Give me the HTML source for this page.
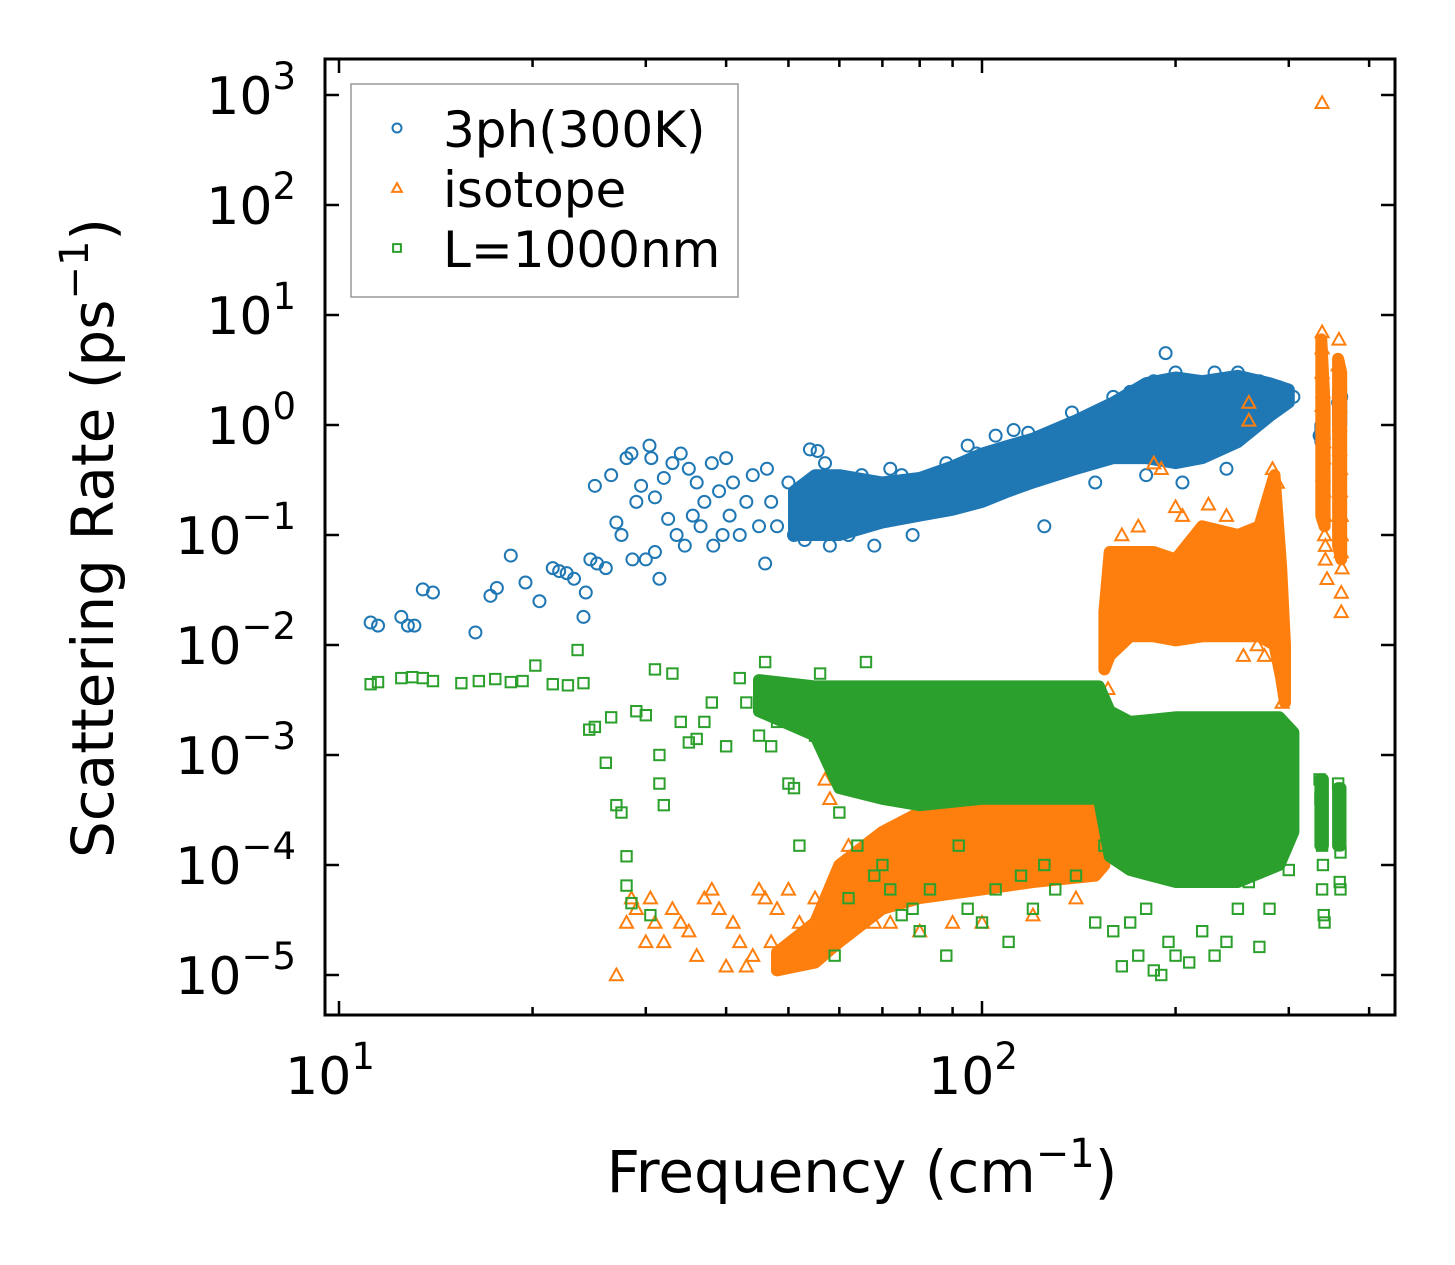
<!DOCTYPE html>
<html><head><meta charset="utf-8"><style>
html,body{margin:0;padding:0;background:#fff;}
svg{display:block;font-family:"DejaVu Sans","Liberation Sans",sans-serif;}
</style></head><body>
<svg id="chart" width="1455" height="1265" viewBox="0 0 1455 1265" xmlns="http://www.w3.org/2000/svg">
<rect width="1455" height="1265" fill="#fff"/>
<g id="marks"></g>
<g id="axes"></g>
</svg>
<script>
// ---- data ----
const xTicks=[10,100];
const xTickLabels=["1","2"];
const yTicks=[1e3,1e2,1e1,1e0,1e-1,1e-2,1e-3,1e-4,1e-5];
const yTickLabels=["3","2","1","0","\u22121","\u22122","\u22123","\u22124","\u22125"];
// density envelopes: [freq, low, high]
const blueBand=[[51,0.1,0.25],[55,0.1,0.35],[60,0.1,0.35],[70,0.13,0.3],[80,0.15,0.33],[90,0.17,0.42],[100,0.2,0.55],[110,0.25,0.65],[120,0.3,0.75],[140,0.4,1.1],[160,0.5,1.6],[180,0.5,2.4],[200,0.45,2.7],[220,0.5,2.5],[250,0.7,2.8],[280,1.2,2.4],[300,1.6,2.1]];
const blueCol1=[[336,0.7,1.0],[340,0.7,1.0]];
const blueCol2=[[358,1.0,2.0],[362,1.0,2.0]];
const orangeLowBand=[[48,1.1e-5,1.6e-5],[55,1.3e-5,3e-5],[60,2e-5,1e-4],[70,4e-5,2e-4],[80,5e-5,3e-4],[100,6e-5,3.5e-4],[120,7e-5,3.5e-4],[150,8e-5,5e-4],[155,1e-4,8e-4]];
const orangeHighBand=[[155,0.006,0.02],[158,0.008,0.07],[170,0.012,0.07],[185,0.012,0.07],[200,0.011,0.06],[220,0.012,0.12],[250,0.012,0.1],[270,0.012,0.12],[285,0.01,0.35],[292,0.005,0.05],[296,0.003,0.01]];
const orangeCol1=[[337,0.15,6],[341,0.12,1.5]];
const orangeCol2=[[358,0.08,4],[362,0.06,3]];
const greenBand=[[45,2.5e-3,4.8e-3],[55,1.5e-3,4.2e-3],[60,5e-4,4.2e-3],[70,4e-4,4.2e-3],[80,3.5e-4,4.2e-3],[100,4e-4,4.2e-3],[130,4e-4,4.2e-3],[152,4e-4,4.2e-3],[158,1.2e-4,2.5e-3],[170,9e-5,2e-3],[200,7e-5,2.2e-3],[250,7e-5,2.2e-3],[290,1e-4,2.2e-3],[305,2e-4,1.6e-3]];
const greenCol1=[[336,1.5e-4,6e-4],[339,1.5e-4,6e-4]];
const greenCol2=[[358,1.5e-4,5e-4],[361,1.5e-4,5e-4]];
// scattered points [freq, rate]
const bluePts=[[11.2,0.016],[11.5,0.015],[12.5,0.018],[12.8,0.015],[13.1,0.015],[13.5,0.032],[14,0.03],[16.3,0.013],[17.2,0.028],[17.6,0.033],[18.5,0.065],[19.5,0.037],[20.5,0.025],[21.5,0.05],[22,0.047],[22.6,0.045],[23.2,0.04],[24,0.018],[24.2,0.03],[24.6,0.06],[25,0.28],[25.2,0.055],[26,0.05],[26.5,0.35],[27,0.13],[27.5,0.1],[28,0.5],[28.5,0.55],[28.6,0.06],[29,0.2],[29.5,0.28],[30,0.06],[30.4,0.65],[30.6,0.5],[31,0.07],[31,0.22],[31.5,0.04],[32,0.33],[32.5,0.14],[33,0.45],[33.5,0.1],[34,0.55],[34.5,0.08],[35,0.4],[35.5,0.15],[36,0.3],[36.5,0.12],[37,0.2],[38,0.45],[38.2,0.08],[39,0.25],[39.5,0.1],[40,0.5],[40.5,0.15],[41,0.3],[42,0.1],[43,0.2],[44,0.35],[45,0.12],[46,0.055],[46.3,0.4],[47,0.2],[48,0.12],[50,0.3],[51,0.1],[52,0.18],[53,0.09],[54,0.6],[55.5,0.58],[57,0.45],[58,0.08],[62,0.1],[65,0.35],[68,0.08],[72,0.4],[75,0.35],[78,0.1],[85,0.35],[88,0.45],[95,0.65],[98,0.55],[105,0.8],[112,0.9],[118,0.85],[125,0.12],[138,1.3],[150,0.3],[160,1.8],[170,2.0],[185,2.5],[193,4.5],[200,3.0],[210,2.0],[230,3.0],[250,3.0],[270,2.5],[240,0.4],[205,0.3],[180,0.35],[290,2.2],[305,1.8],[335,0.8],[338,1.0],[340,0.75],[358,1.6],[360,1.2],[362,1.8],[360,1.0]];
const orangePts=[[27,1e-5],[28,3e-5],[28.5,5e-5],[29,4e-5],[30,2e-5],[30.5,5e-5],[31,3e-5],[32,2e-5],[33,4e-5],[34,3e-5],[35,2.5e-5],[36,1.5e-5],[37,5e-5],[38,6e-5],[39,4e-5],[40,1.2e-5],[41,3e-5],[42,2e-5],[43,1.2e-5],[44,1.5e-5],[45,6e-5],[46,5e-5],[47,2e-5],[48,4e-5],[50,6e-5],[52,3e-5],[55,5e-5],[57,6e-4],[58,4e-4],[62,1.5e-4],[68,3e-5],[72,3e-5],[80,2.5e-5],[90,3e-5],[100,3e-5],[120,3.5e-5],[140,5e-5],[153,6e-4],[157,0.004],[165,0.1],[175,0.12],[190,0.4],[200,0.18],[205,0.15],[225,0.19],[240,0.15],[255,0.008],[268,0.01],[275,0.008],[283,0.4],[288,0.3],[293,0.003],[296,0.0015],[260,1.6],[260,1.1],[185,0.45],[338,850],[338,7],[338,5],[338,3],[339,2],[338,1.5],[340,0.7],[340,0.5],[339,0.35],[340,0.25],[341,0.15],[341,0.1],[342,0.08],[342,0.06],[344,0.04],[359,6],[358,3.5],[360,2],[360,1.5],[360,1],[360,0.6],[361,0.4],[361,0.25],[362,0.15],[362,0.1],[362,0.07],[363,0.05],[362,0.03],[362,0.02]];
const greenPts=[[11.2,4.4e-3],[11.5,4.6e-3],[12.5,5e-3],[13,5.1e-3],[13.5,5e-3],[14,4.7e-3],[15.5,4.5e-3],[16.5,4.7e-3],[17.5,4.9e-3],[18.5,4.6e-3],[19.3,4.7e-3],[20.2,6.5e-3],[21.5,4.4e-3],[22.7,4.3e-3],[23.5,9e-3],[24,4.5e-3],[24.5,1.7e-3],[25,1.8e-3],[26,8.5e-4],[26.5,2.2e-3],[27,3.5e-4],[27.5,3e-4],[28,1.2e-4],[28,6.5e-5],[28.5,4.5e-5],[29,2.5e-3],[30,2.3e-3],[30.5,3.5e-5],[31,6e-3],[31.5,1e-3],[31.5,5.5e-4],[32,3.5e-4],[33,5.5e-3],[34,2e-3],[35,1.3e-3],[36,1.4e-3],[37,2e-3],[38,3e-3],[40,1.2e-3],[42,5e-3],[43,3e-3],[45,1.5e-3],[46,7e-3],[47,1.2e-3],[48,2e-3],[50,5.5e-4],[51,5e-4],[52,1.5e-4],[55,1.5e-3],[56,5.5e-3],[58,1e-3],[59,1.5e-5],[60,3e-4],[62,5e-5],[64,1.5e-4],[66,7e-3],[68,8e-5],[70,1e-4],[72,6e-5],[75,3.5e-5],[78,4e-5],[80,2.5e-5],[83,6e-5],[88,1.5e-5],[92,1.5e-4],[95,4e-5],[100,3e-5],[105,6e-5],[110,2e-5],[115,8e-5],[120,4e-5],[125,1e-4],[130,6e-5],[140,8e-5],[150,3e-5],[155,1.5e-4],[160,2.5e-5],[165,1.2e-5],[170,3e-5],[175,1.5e-5],[180,4e-5],[185,1.1e-5],[190,1e-5],[195,2e-5],[200,1.5e-5],[210,1.3e-5],[220,2.5e-5],[230,1.5e-5],[240,2e-5],[250,4e-5],[260,7e-5],[270,1.8e-5],[280,4e-5],[290,1.1e-4],[300,9e-5],[335,6e-4],[336,4e-4],[337,3e-4],[338,2e-4],[338,1.5e-4],[339,1e-4],[338,6e-5],[340,3.5e-5],[341,3e-5],[358,5.5e-4],[359,4e-4],[360,3e-4],[360,2e-4],[361,1.3e-4],[360,7e-5],[361,6e-5]];

// ---- axes mapping ----
const X0=339, XD=643, Y0=95, YD=110;
const L=325,R=1395,T=59,B=1015;
const xs=f=>X0+XD*(Math.log10(f)-1);
const ys=r=>Y0+YD*(3-Math.log10(r));
const NS="http://www.w3.org/2000/svg";
const C={blue:"#1f77b4",orange:"#ff7f0e",green:"#2ca02c"};
function mk(tag,parent,attrs){const e=document.createElementNS(NS,tag);for(const k in attrs)e.setAttribute(k,attrs[k]);parent.appendChild(e);return e;}
const marksG=document.getElementById('marks'),axesG=document.getElementById('axes');

function band(data,color,name,parent){
  const top=data.map(d=>xs(d[0]).toFixed(1)+','+ys(d[2]).toFixed(1));
  const bot=data.slice().reverse().map(d=>xs(d[0]).toFixed(1)+','+ys(d[1]).toFixed(1));
  const p=mk('polygon',parent,{points:top.concat(bot).join(' '),fill:color,stroke:color,'stroke-width':12,'stroke-linejoin':'round'});
  
  
}
function marker(type,x,y,color,parent,s){
  let e;
  if(type==='c'){e=mk('circle',parent,{cx:x,cy:y,r:6*s,fill:'none',stroke:color,'stroke-width':2});}
  else if(type==='t'){const h=6.5*s;e=mk('polygon',parent,{points:`${x},${y-h} ${x+h},${y+h*0.8} ${x-h},${y+h*0.8}`,fill:'none',stroke:color,'stroke-width':2});}
  else {const h=5.2*s;e=mk('rect',parent,{x:x-h,y:y-h,width:2*h,height:2*h,fill:'none',stroke:color,'stroke-width':2});}
  return e;
}
function series(name,bands,data,type,color){
  const g=mk('g',marksG,{});
  
  
  bands.forEach(b=>band(b[0],color,b[1],g));
  data.forEach(d=>{const e=marker(type,xs(d[0]),ys(d[1]),color,g,1);
    
    });
}
series('3ph-series',[[blueBand,'3ph-density-band'],[blueCol1,'3ph-column-1'],[blueCol2,'3ph-column-2']],bluePts,'c',C.blue);
series('isotope-series',[[orangeLowBand,'isotope-low-band'],[orangeHighBand,'isotope-high-band'],[orangeCol1,'isotope-column-1'],[orangeCol2,'isotope-column-2']],orangePts,'t',C.orange);
series('boundary-series',[[greenBand,'boundary-density-band'],[greenCol1,'boundary-column-1'],[greenCol2,'boundary-column-2']],greenPts,'s',C.green);

// ---- frame & ticks ----
const frame=mk('rect',axesG,{x:L,y:T,width:R-L,height:B-T,fill:'none',stroke:'#000','stroke-width':3});


function tick(x1,y1,x2,y2){mk('line',axesG,{x1,y1,x2,y2,stroke:'#000','stroke-width':2.5});}
[10,100].forEach(b=>{for(let m=1;m<=9;m++){const f=b*m;const x=xs(f);if(x<L||x>R)continue;const len=m===1?14:8;tick(x,B,x,B-len);tick(x,T,x,T+len);}});
xTicks.forEach((v,i)=>{const t=mk('text',axesG,{x:xs(v)-9,y:1094,'font-size':52,'text-anchor':'middle',fill:'#000'});t.textContent='10';
  
  
  const s=mk('tspan',t,{dy:-25,'font-size':37});s.textContent=xTickLabels[i];});
yTicks.forEach((v,i)=>{const y=ys(v);tick(L,y,L+14,y);tick(R,y,R-14,y);
  const t=mk('text',axesG,{x:296,y:y+19,'font-size':52,'text-anchor':'end',fill:'#000'});
  
  
  const a=mk('tspan',t,{});a.textContent='10';
  const s=mk('tspan',t,{dy:-25,'font-size':37});s.textContent=yTickLabels[i];});
// axis titles
const xt=mk('text',axesG,{x:862,y:1192,'font-size':58,'text-anchor':'middle',fill:'#000'});


xt.appendChild(document.createTextNode('Frequency (cm'));
let s1=mk('tspan',xt,{dy:-25,'font-size':40});s1.textContent='\u22121';
let s2=mk('tspan',xt,{dy:25});s2.textContent=')';
const yt=mk('text',axesG,{x:0,y:0,'font-size':58,'text-anchor':'middle',fill:'#000',transform:'translate(113,538) rotate(-90)'});


yt.appendChild(document.createTextNode('Scattering Rate (ps'));
let s3=mk('tspan',yt,{dy:-25,'font-size':40});s3.textContent='\u22121';
let s4=mk('tspan',yt,{dy:25});s4.textContent=')';
// legend
const lg=mk('g',axesG,{});


mk('rect',lg,{x:351,y:84,width:387,height:213,fill:'#fff','fill-opacity':0.8,stroke:'#999','stroke-width':1.5});
const legendItems=[['c',C.blue,'3ph(300K)',130],['t',C.orange,'isotope',190],['s',C.green,'L=1000nm',250]];
legendItems.forEach(it=>{const g=mk('g',lg,{});
  
  
  marker(it[0],397,it[3]-2,it[1],g,0.75);
  const t=mk('text',g,{x:443,y:it[3]+17,'font-size':50,fill:'#000'});t.textContent=it[2];});
</script>
</body></html>
